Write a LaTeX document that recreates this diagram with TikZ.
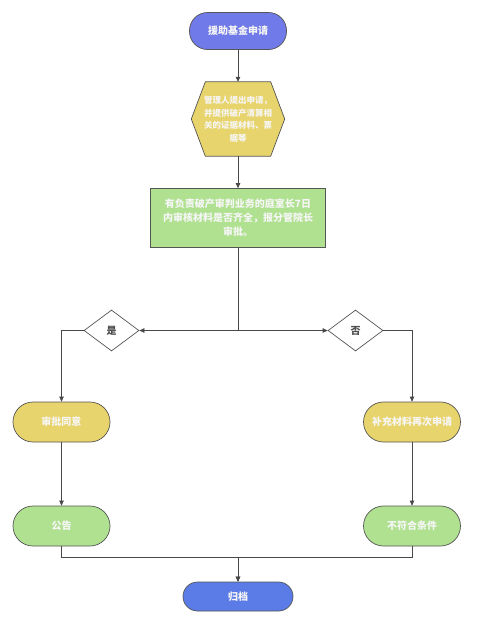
\documentclass[tikz,border=0pt]{standalone}
\usepackage{fontspec}
\setmainfont{Noto Sans CJK SC}
\usepackage{tikz}
\usetikzlibrary{arrows.meta,positioning,calc,shapes.geometric,backgrounds}
\definecolor{clStart}{HTML}{707AE8}
\definecolor{clEnd}{HTML}{5B7CE6}
\definecolor{clApply}{HTML}{E8D46C}
\definecolor{clReview}{HTML}{B0E190}
\definecolor{clEdge}{HTML}{555555}
\definecolor{clLabel}{HTML}{F6F6F6}
\tikzset{
  box/.style={rectangle, draw=clEdge, line width=0.7pt, align=center,
              inner sep=2pt, text=clLabel, font=\bfseries\fontsize{10}{14}\selectfont},
  terminal/.style={box, rounded corners=18pt, minimum width=97pt, minimum height=37pt},
  pill/.style={box, rounded corners=20pt, minimum width=97pt, minimum height=40pt},
  review/.style={box, fill=clReview, minimum width=175pt, minimum height=59pt},
  hexlabel/.style={align=center, inner sep=0pt, minimum width=93pt, minimum height=74pt,
              text=clLabel, font=\bfseries\fontsize{8.5}{12.5}\selectfont},
  decision/.style={diamond, aspect=1.34, draw=clEdge, line width=0.7pt, fill=white,
              inner sep=0pt, minimum width=55pt, minimum height=41pt,
              text=clEdge!90!black, font=\bfseries\fontsize{10}{12}\selectfont},
  flow/.style={-{Triangle[length=5pt,width=4.5pt]}, line width=0.7pt, draw=clEdge!85!black},
}

\begin{document}
\begin{tikzpicture}[x=1pt, y={(0pt,-1pt)}]
  \begin{scope}[on background layer]
    \fill[white] (0,0) rectangle (483,627);
  \end{scope}
  \useasboundingbox (0,0) rectangle (483,627);

  \node[terminal, fill=clStart] (apply) at (238,31) {援助基金申请};
  \node[hexlabel] (submit) at (238,119) {管理人提出申请，\\并提供破产清算相\\关的证据材料、票\\据等};
  \begin{scope}[on background layer]
    \draw[draw=clEdge, line width=0.7pt, fill=clApply] (submit.west)
      -- ($(submit.north west)+(14pt,0pt)$) -- ($(submit.north east)+(-14pt,0pt)$)
      -- (submit.east)
      -- ($(submit.south east)+(-14pt,0pt)$) -- ($(submit.south west)+(14pt,0pt)$) -- cycle;
  \end{scope}
  \node[review] (check) at (238,218) {有负责破产审判业务的庭室长7日\\内审核材料是否齐全，报分管院长\\审批。};

  \node[decision] (yes) at (111.5,330.5) {是};
  \node[decision] (no) at (355.5,330.5) {否};

  \node[pill, fill=clApply] (agree) at (61.5,422) {审批同意};
  \node[pill, fill=clApply] (supp) at (412,422) {补充材料再次申请};
  \node[pill, fill=clReview] (notice) at (61.5,526) {公告};
  \node[pill, fill=clReview] (reject) at (412,526) {不符合条件};
  \node[box, fill=clEnd, rounded corners=14.5pt, minimum width=110pt, minimum height=29pt] (archive) at (238,596.5) {归档};
  \coordinate (join) at (238,557);

  \draw[flow] (apply) -- (submit);
  \draw[flow] (submit) -- (check);
  \draw[flow] (check.south) |- (yes.east);
  \draw[flow] (check.south) |- (no.west);
  \draw[flow] (yes.west) -| (agree.north);
  \draw[flow] (no.east) -| (supp.north);
  \draw[flow] (agree) -- (notice);
  \draw[flow] (supp) -- (reject);
  \draw[flow] (notice.south) |- (join) -- (archive.north);
  \draw[flow] (reject.south) |- (join) -- (archive.north);
\end{tikzpicture}
\end{document}
